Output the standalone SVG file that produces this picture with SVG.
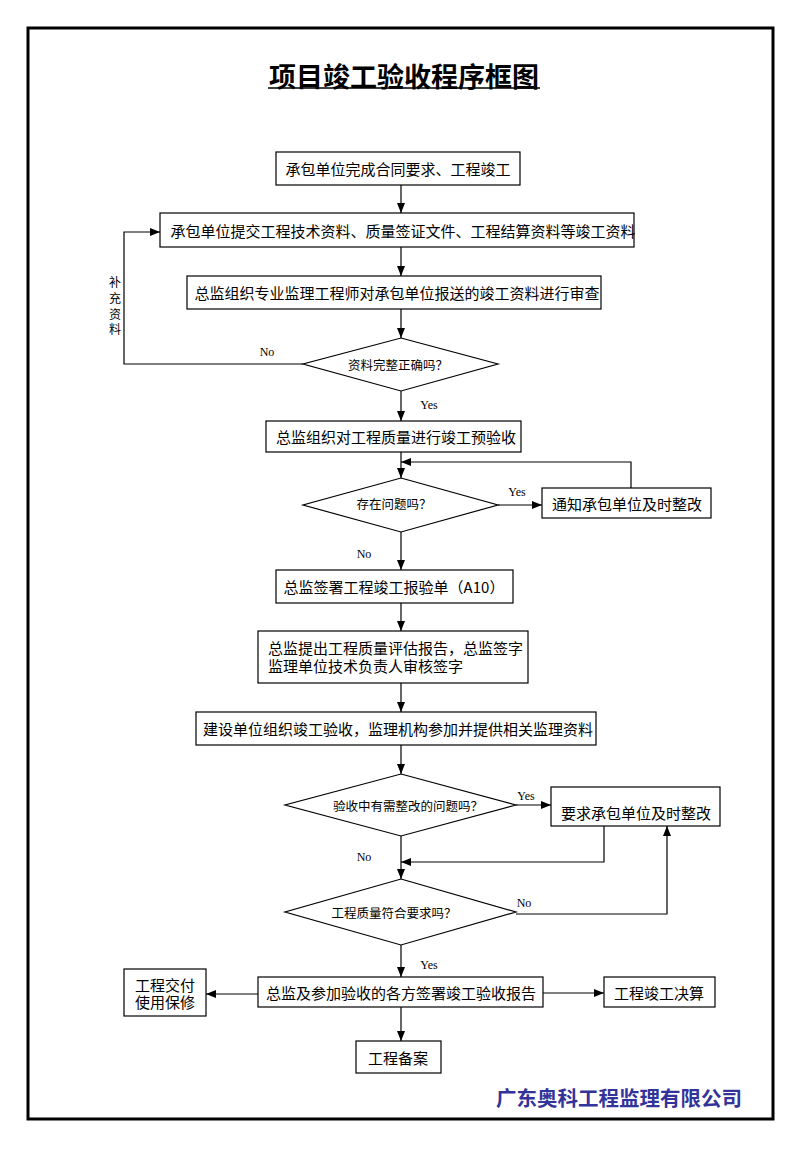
<svg xmlns="http://www.w3.org/2000/svg" width="800" height="1155" viewBox="0 0 800 1155">
<defs>
<marker id="ah" markerUnits="userSpaceOnUse" markerWidth="10" markerHeight="10" refX="10" refY="5" orient="auto">
<path d="M0,1 L10,5 L0,9 z" fill="#000"/>
</marker>
<style>
.box{fill:#fff;stroke:#000;stroke-width:1.2}
.t{font-family:"Noto Sans CJK SC","Liberation Sans",sans-serif;font-size:15px;fill:#000;text-anchor:middle;dominant-baseline:central}
.ts{font-family:"Noto Sans CJK SC","Liberation Sans",sans-serif;font-size:12.5px;fill:#000;text-anchor:middle;dominant-baseline:central}
.lbl{font-family:"Liberation Serif",serif;font-size:12px;fill:#000;text-anchor:middle;dominant-baseline:central}
.c{fill:none;stroke:#000;stroke-width:1.2}
.a{fill:none;stroke:#000;stroke-width:1.2;marker-end:url(#ah)}
</style>
</defs>
<rect x="0" y="0" width="800" height="1155" fill="#fff"/>
<rect x="28" y="28" width="745" height="1091" fill="none" stroke="#000" stroke-width="3"/>
<g id="title">
<text x="404" y="75" font-family="'Noto Sans CJK SC',sans-serif" font-size="27" font-weight="bold" text-anchor="middle" dominant-baseline="central">项目竣工验收程序框图</text>
<line x1="268" y1="88" x2="540" y2="88" stroke="#000" stroke-width="1.5"/>
</g>
<g id="connectors">
<line class="a" x1="401" y1="185" x2="401" y2="213"/>
<line class="a" x1="401" y1="247" x2="401" y2="276"/>
<line class="a" x1="401" y1="309" x2="401" y2="338"/>
<polyline class="a" points="303,364 124,364 124,232 160,232"/>
<line class="a" x1="401" y1="391" x2="401" y2="421"/>
<line class="a" x1="401" y1="452" x2="401" y2="478"/>
<polyline class="a" points="631,488 631,462 401,462"/>
<line class="a" x1="498" y1="505" x2="542" y2="505"/>
<line class="a" x1="401" y1="532" x2="401" y2="570"/>
<line class="a" x1="401" y1="603" x2="401" y2="631"/>
<line class="a" x1="401" y1="683" x2="401" y2="712"/>
<line class="a" x1="401" y1="745" x2="401" y2="774"/>
<line class="a" x1="516" y1="805" x2="551" y2="805"/>
<polyline class="a" points="604,826 604,862 401,862"/>
<line class="a" x1="401" y1="836" x2="401" y2="879"/>
<polyline class="a" points="516,914 667,914 667,826"/>
<line class="a" x1="401" y1="945" x2="401" y2="977"/>
<line class="a" x1="258" y1="994" x2="206" y2="994"/>
<line class="a" x1="543" y1="993" x2="604" y2="993"/>
<line class="a" x1="401" y1="1007" x2="401" y2="1041"/>
<text class="lbl" x="267" y="352">No</text>
<text class="lbl" x="429" y="405">Yes</text>
<text class="lbl" x="517" y="492">Yes</text>
<text class="lbl" x="364" y="554">No</text>
<text class="lbl" x="526" y="796">Yes</text>
<text class="lbl" x="364" y="857">No</text>
<text class="lbl" x="524" y="903">No</text>
<text class="lbl" x="429" y="965">Yes</text>
<text class="ts" style="font-size:12px"><tspan x="115" y="281">补</tspan><tspan x="115" y="297">充</tspan><tspan x="115" y="313">资</tspan><tspan x="115" y="328">料</tspan></text>
</g>
<g id="n1"><rect class="box" x="276" y="152" width="244" height="33"/><text class="t" x="398" y="168.5">承包单位完成合同要求、工程竣工</text></g>
<g id="n2"><rect class="box" x="160" y="213" width="474" height="34"/><text class="t" x="403" y="230">承包单位提交工程技术资料、质量签证文件、工程结算资料等竣工资料</text></g>
<g id="n3"><rect class="box" x="187" y="276" width="414" height="33"/><text class="t" x="397" y="292.5">总监组织专业监理工程师对承包单位报送的竣工资料进行审查</text></g>
<g id="d1"><polygon class="box" points="401,338 498,364 401,391 303,364"/><text class="ts" x="398" y="364">资料完整正确吗？</text></g>
<g id="n4"><rect class="box" x="266" y="421" width="255" height="31"/><text class="t" x="396" y="436.5">总监组织对工程质量进行竣工预验收</text></g>
<g id="d2"><polygon class="box" points="401,478 498,505 401,532 303,505"/><text class="ts" x="394" y="503">存在问题吗？</text></g>
<g id="n5"><rect class="box" x="542" y="488" width="169" height="30"/><text class="t" x="627" y="503">通知承包单位及时整改</text></g>
<g id="n6"><rect class="box" x="276" y="570" width="237" height="33"/><text class="t" x="394" y="586.5">总监签署工程竣工报验单（A10）</text></g>
<g id="n7"><rect class="box" x="258" y="631" width="270" height="52"/><text class="t" style="text-anchor:start"><tspan x="268" y="647">总监提出工程质量评估报告，总监签字</tspan><tspan x="268" y="665">监理单位技术负责人审核签字</tspan></text></g>
<g id="n8"><rect class="box" x="196" y="712" width="400" height="33"/><text class="t" x="398" y="728.5">建设单位组织竣工验收，监理机构参加并提供相关监理资料</text></g>
<g id="d3"><polygon class="box" points="401,774 516,805 401,836 285,805"/><text class="ts" x="408" y="805">验收中有需整改的问题吗？</text></g>
<g id="n9"><rect class="box" x="551" y="787" width="169" height="39"/><text class="t" x="636" y="812">要求承包单位及时整改</text></g>
<g id="d4"><polygon class="box" points="401,879 516,912 401,945 285,912"/><text class="ts" x="394" y="912">工程质量符合要求吗？</text></g>
<g id="n10"><rect class="box" x="258" y="977" width="285" height="30"/><text class="t" x="401" y="992">总监及参加验收的各方签署竣工验收报告</text></g>
<g id="n11"><rect class="box" x="124" y="969" width="82" height="47"/><text class="t"><tspan x="165" y="984">工程交付</tspan><tspan x="165" y="1001">使用保修</tspan></text></g>
<g id="n12"><rect class="box" x="604" y="977" width="111" height="30"/><text class="t" x="659" y="992">工程竣工决算</text></g>
<g id="n13"><rect class="box" x="356" y="1041" width="85" height="32"/><text class="t" x="398" y="1057">工程备案</text></g>
<g id="footer"><text x="619" y="1097" font-family="'Noto Sans CJK SC',sans-serif" font-size="20.5" font-weight="bold" fill="#33339a" text-anchor="middle" dominant-baseline="central">广东奥科工程监理有限公司</text></g>
</svg>
